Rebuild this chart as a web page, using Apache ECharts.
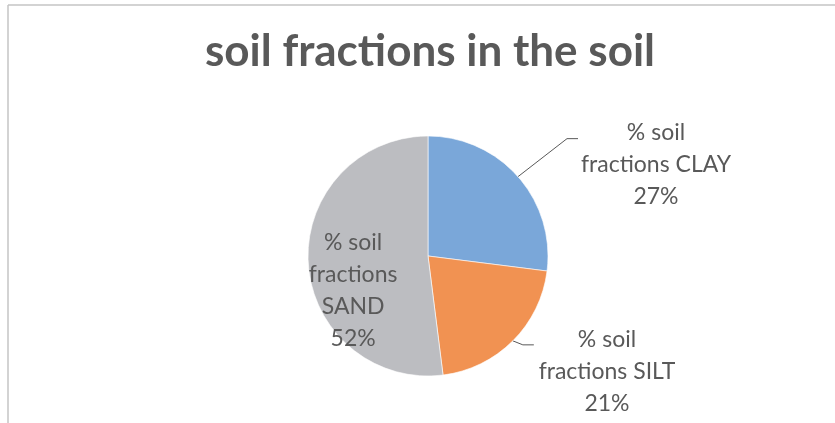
<!DOCTYPE html>
<html>
<head>
<meta charset="utf-8">
<script src="https://cdn.jsdelivr.net/npm/echarts@6/dist/echarts.min.js"></script>
<style>
  html, body { margin: 0; padding: 0; background: #ffffff; }
  #chart { width: 835px; height: 423px; }
</style>
</head>
<body>
<div id="chart"></div>
<script>
// Soil texture composition (percent of total)
const categories = ['% soil fractions CLAY', '% soil fractions SILT', '% soil fractions SAND'];
const shares = [27, 21, 52];
const sliceColors = ['#7aa7d9', '#f19252', '#bcbdc1'];
const titleText = 'soil fractions in the soil';

const textColor = '#595959';
const labelFont = 'Lato, "Noto Sans", sans-serif';

// Wrap the category name into the lines used by each label
function wrapName(name, idx) {
  const parts = name.split(' ');
  if (idx === 2) {
    return '% soil\nfractions\n' + parts[3];
  }
  return '% soil\nfractions ' + parts[3];
}

const data = categories.map((name, i) => ({
  name: name,
  value: shares[i],
  itemStyle: { color: sliceColors[i] },
  label: i === 2 ? { position: 'inside', offset: [-12, 31] } : { position: 'outside' },
  labelLine: { show: i !== 2 }
}));

// Where the outside labels sit, relative to the pie
const labelSpots = {
  0: { dx: 228, dy: -91, bend: [49, -38], tail: 11 },
  1: { dx: 179, dy: 116, bend: [10, 4], tail: 11 }
};

const chart = echarts.init(document.getElementById('chart'), null, { renderer: 'canvas' });

chart.setOption({
  backgroundColor: '#ffffff',
  animation: false,
  title: {
    text: titleText,
    left: 425,
    textAlign: 'center',
    top: 25,
    textStyle: {
      fontFamily: labelFont,
      fontWeight: 'bold',
      fontSize: 44,
      color: textColor
    }
  },
  graphic: [
    { type: 'line', shape: { x1: 8, y1: 5, x2: 835, y2: 5 }, style: { stroke: '#c4c4c4', lineWidth: 1.5 } },
    { type: 'line', shape: { x1: 8, y1: 5, x2: 8, y2: 423 }, style: { stroke: '#c4c4c4', lineWidth: 1.5 } }
  ],
  series: [{
    type: 'pie',
    center: [428, 256],
    radius: 120,
    startAngle: 90,
    clockwise: true,
    data: data,
    itemStyle: { borderColor: '#ffffff', borderWidth: 0.6 },
    label: {
      show: true,
      formatter: p => wrapName(p.name, p.dataIndex) + '\n' + p.value + '%',
      fontFamily: labelFont,
      fontSize: 23,
      lineHeight: 32,
      color: textColor,
      align: 'center'
    },
    labelLine: {
      show: true,
      lineStyle: { color: '#595959', width: 1 }
    },
    labelLayout: function (params) {
      const spot = labelSpots[params.dataIndex];
      if (!spot || !params.labelLinePoints) return {};
      const a = params.labelLinePoints[0];
      const b = [a[0] + spot.bend[0], a[1] + spot.bend[1]];
      const c = [b[0] + spot.tail, b[1]];
      return {
        x: 428 + spot.dx,
        y: 256 + spot.dy,
        align: 'center',
        verticalAlign: 'middle',
        labelLinePoints: [a, b, c]
      };
    }
  }]
});
</script>
</body>
</html>
